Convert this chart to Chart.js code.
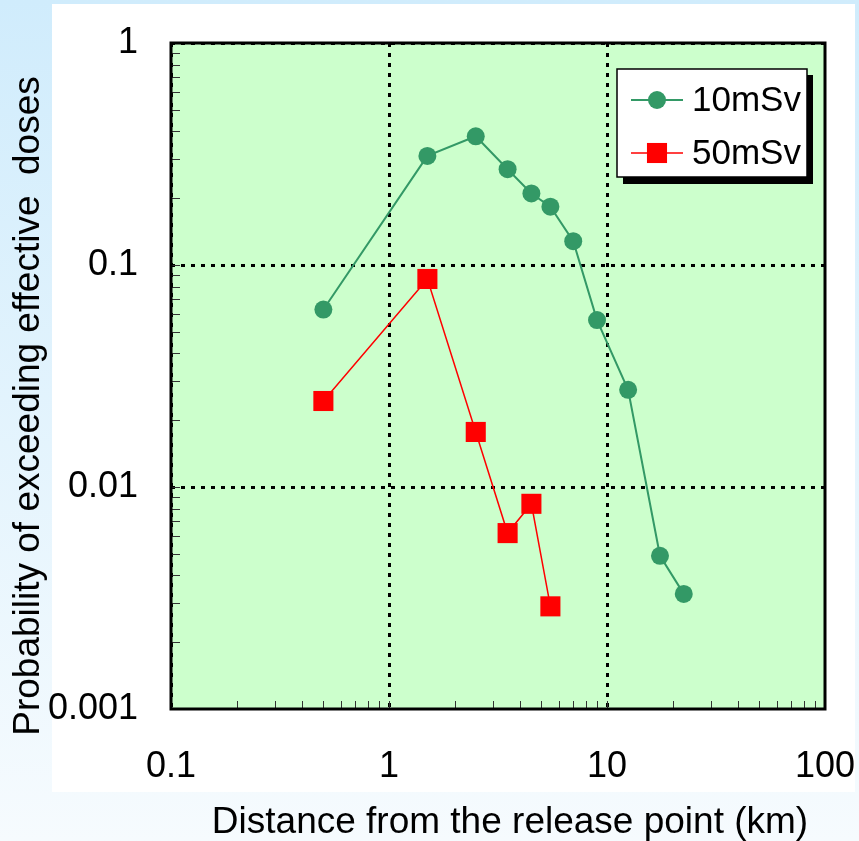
<!DOCTYPE html>
<html>
<head>
<meta charset="utf-8">
<script src="https://cdn.jsdelivr.net/npm/chart.js@4"></script>
<style>
html, body { margin: 0; padding: 0; background: #ffffff; }
canvas { display: block; }
</style>
</head>
<body>
<canvas id="chart" width="859" height="841"></canvas>
<script>
"use strict";
// Données
const dist10 = [0.5, 1.5, 2.5, 3.5, 4.5, 5.5, 7, 9, 12.5, 17.5, 22.5];
const prob10 = [0.063, 0.31, 0.38, 0.27, 0.21, 0.183, 0.128, 0.0565, 0.0274, 0.0049, 0.0033];
const dist50 = [0.5, 1.5, 2.5, 3.5, 4.5, 5.5];
const prob50 = [0.0244, 0.0865, 0.0177, 0.0062, 0.0084, 0.0029];
const xTicks = [0.1, 1, 10, 100];
const yTicks = [0.001, 0.01, 0.1, 1];
const seriesLabels = ['10mSv', '50mSv'];
const xTitle = 'Distance from the release point (km)';
const yTitle = 'Probability of exceeding effective  doses';

const FONT = "'Liberation Sans', Arial, sans-serif";
const GREEN = '#339966';
const RED = '#ff0000';

const toPoints = (xs, ys) => xs.map((x, i) => ({ x: x, y: ys[i] }));

// Fond, cadre, petites graduations, légende et titres
const decorPlugin = {
    id: 'decor',
    beforeDraw(chart) {
        const ctx = chart.ctx;
        const a = chart.chartArea;
        const grad = ctx.createLinearGradient(0, 0, 0, chart.height);
        grad.addColorStop(0, '#d0ecfc');
        grad.addColorStop(1, '#f6fbfe');
        ctx.save();
        ctx.fillStyle = grad;
        ctx.fillRect(0, 0, chart.width, chart.height);
        ctx.fillStyle = '#ffffff';
        ctx.fillRect(52, 4, 803, 788);
        ctx.fillStyle = '#ccffcc';
        ctx.fillRect(a.left, a.top, a.right - a.left, a.bottom - a.top);
        ctx.restore();
    },
    beforeDatasetsDraw(chart) {
        const ctx = chart.ctx;
        const a = chart.chartArea;
        const xs = chart.scales.x;
        const ys = chart.scales.y;
        ctx.save();
        ctx.strokeStyle = '#333333';
        ctx.lineWidth = 1;
        ctx.beginPath();
        yTicks.forEach(d => {
            for (let k = 1; k <= 9; k++) {
                const v = k * d;
                if (v > 1) continue;
                const py = Math.round(ys.getPixelForValue(v)) + 0.5;
                ctx.moveTo(a.left, py);
                ctx.lineTo(a.left + 9, py);
            }
        });
        xTicks.forEach(d => {
            for (let k = 1; k <= 9; k++) {
                const v = k * d;
                if (v > 100) continue;
                const px = Math.round(xs.getPixelForValue(v)) + 0.5;
                ctx.moveTo(px, a.bottom);
                ctx.lineTo(px, a.bottom - 8);
            }
        });
        ctx.stroke();
        ctx.strokeStyle = '#000000';
        ctx.lineWidth = 3;
        ctx.strokeRect(a.left, a.top, a.right - a.left, a.bottom - a.top);
        ctx.restore();
    },
    afterDraw(chart) {
        const ctx = chart.ctx;
        ctx.save();
        // légende
        ctx.fillStyle = '#000000';
        ctx.fillRect(623, 75, 190, 109);
        ctx.fillStyle = '#ffffff';
        ctx.fillRect(617, 69, 190, 108);
        ctx.strokeStyle = '#000000';
        ctx.lineWidth = 1.5;
        ctx.strokeRect(617, 69, 190, 108);
        const rows = [100, 153];
        chart.data.datasets.forEach((ds, i) => {
            const y = rows[i];
            ctx.strokeStyle = ds.borderColor;
            ctx.lineWidth = ds.borderWidth;
            ctx.beginPath();
            ctx.moveTo(631, y);
            ctx.lineTo(683, y);
            ctx.stroke();
            ctx.fillStyle = ds.backgroundColor;
            Chart.helpers.drawPoint(ctx, {
                pointStyle: ds.pointStyle,
                radius: ds.pointRadius,
                borderWidth: 0,
                rotation: 0
            }, 657, y);
            ctx.fillStyle = '#000000';
            ctx.font = '35px ' + FONT;
            ctx.textAlign = 'left';
            ctx.textBaseline = 'middle';
            ctx.fillText(ds.label, 692, y + 1);
        });
        // titres des axes
        ctx.fillStyle = '#000000';
        ctx.font = '37px ' + FONT;
        ctx.textAlign = 'center';
        ctx.textBaseline = 'alphabetic';
        ctx.fillText(xTitle, 510, 833);
        ctx.translate(39, 406);
        ctx.rotate(-Math.PI / 2);
        ctx.fillText(yTitle, 0, 0);
        ctx.restore();
    }
};

const gridColor = (ctx) => {
    const v = ctx.tick && ctx.tick.value;
    return (v === 1 || v === 10 || v === 0.1 || v === 0.01) ? '#000000' : 'rgba(0,0,0,0)';
};

new Chart(document.getElementById('chart'), {
    type: 'line',
    data: {
        datasets: [{
            label: seriesLabels[0],
            data: toPoints(dist10, prob10),
            borderColor: GREEN,
            backgroundColor: GREEN,
            borderWidth: 2,
            pointStyle: 'circle',
            pointRadius: 9,
            pointBorderWidth: 0,
            tension: 0
        }, {
            label: seriesLabels[1],
            data: toPoints(dist50, prob50),
            borderColor: RED,
            backgroundColor: RED,
            borderWidth: 1.5,
            pointStyle: 'rect',
            pointRadius: 14.2,
            pointBorderWidth: 0,
            tension: 0
        }]
    },
    options: {
        responsive: false,
        animation: false,
        devicePixelRatio: 1,
        layout: { padding: { top: 43, right: 34, left: 0, bottom: 0 } },
        plugins: {
            legend: { display: false },
            tooltip: { enabled: false }
        },
        scales: {
            x: {
                type: 'logarithmic',
                min: 0.1,
                max: 100,
                afterBuildTicks: (scale) => { scale.ticks = xTicks.map(v => ({ value: v })); },
                afterFit: (scale) => {
                    scale.height = 132;
                    scale.paddingLeft = 0;
                    scale.paddingRight = 0;
                },
                ticks: {
                    callback: (v) => String(v),
                    font: { family: FONT, size: 36 },
                    color: '#000000',
                    padding: 36,
                    maxRotation: 0
                },
                grid: { color: gridColor, lineWidth: 3, drawTicks: false },
                border: { display: false, dash: [4, 6] }
            },
            y: {
                type: 'logarithmic',
                min: 0.001,
                max: 1,
                afterBuildTicks: (scale) => { scale.ticks = yTicks.map(v => ({ value: v })); },
                afterFit: (scale) => {
                    scale.width = 171;
                    scale.paddingTop = 0;
                    scale.paddingBottom = 0;
                },
                ticks: {
                    callback: (v) => String(v),
                    font: { family: FONT, size: 36 },
                    color: '#000000',
                    padding: 33
                },
                grid: { color: gridColor, lineWidth: 3, drawTicks: false },
                border: { display: false, dash: [4, 6] }
            }
        }
    },
    plugins: [decorPlugin]
});
</script>
</body>
</html>
